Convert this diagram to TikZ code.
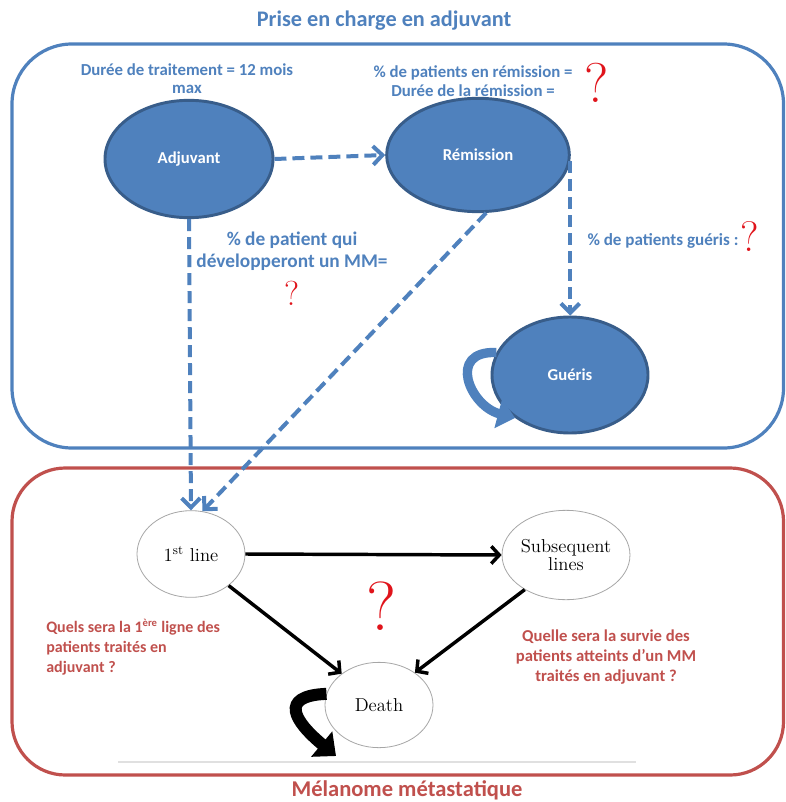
\documentclass[tikz,border=0pt]{standalone}
\usepackage{fontspec}
\newfontfamily\calfont{Carlito}
\usetikzlibrary{arrows.meta,shapes.geometric}
\definecolor{obl}{HTML}{4F81BD}
\definecolor{obld}{HTML}{385D8A}
\definecolor{ored}{HTML}{C0504D}
\definecolor{qred}{HTML}{E0141B}
\tikzset{
  bluenode/.style={ellipse, draw=obld, line width=2.2pt, fill=obl, text=white, inner sep=0pt,
    font=\calfont\bfseries\fontsize{12.5}{14}\selectfont},
  whitenode/.style={ellipse, draw=black!35, line width=0.6pt, fill=white, inner sep=0pt, align=center,
    font=\fontsize{14}{14}\selectfont},
  bluetxt/.style={text=obl, align=center, inner sep=0pt, font=\calfont\bfseries\fontsize{11}{13.5}\selectfont},
  redtxt/.style={text=ored, inner sep=0pt},
  qmark/.style={text=qred, inner sep=0pt},
  bluearrow/.style={draw=obl, line width=3pt, dash pattern=on 9pt off 4.5pt, -{Straight Barb[length=7pt,width=14pt]}},
  blackarrow/.style={draw=black, line width=2.6pt, -{Straight Barb[length=6pt,width=13pt]}},
  frame/.style={rounded corners=45pt, line width=2.4pt}
}
\begin{document}
\begin{tikzpicture}[x=0.75pt,y=-0.75pt]
\useasboundingbox (0,0) rectangle (785,802);
% frames
\draw[frame, draw=obl] (12,44) rectangle (783.5,448);
\draw[frame, draw=ored, rounded corners=40pt] (12,468) rectangle (783.5,775);
\draw[black!12, line width=0.8pt] (118,762) -- (636,762);
% titles
\node[text=obl, inner sep=0pt, font=\calfont\bfseries\fontsize{16.7}{19}\selectfont] (title) at (384,21) {Prise en charge en adjuvant};
\node[text=ored, inner sep=0pt, font=\calfont\bfseries\fontsize{16.9}{19}\selectfont] (title2) at (407,790) {Mélanome métastatique};
% blue nodes
\node[bluenode, minimum width=126pt, minimum height=88pt] (adj) at (189,159) {Adjuvant};
\node[bluenode, minimum width=137pt, minimum height=85pt] (rem) at (478,155) {Rémission};
\node[bluenode, minimum width=117pt, minimum height=87pt] (guer) at (570,375) {Guéris};
% blue texts
\node[bluetxt, font=\calfont\bfseries\fontsize{12.6}{13.5}\selectfont] (dur) at (187,79) {Durée de traitement = 12 mois\\max};
\node[bluetxt, font=\calfont\bfseries\fontsize{12.6}{14.2}\selectfont] (remt) at (473,81) {\% de patients en rémission =\\Durée de la rémission =};
\node[qmark, font=\fontsize{42}{42}\selectfont] (q1) at (597,83) {?};
\node[bluetxt, font=\calfont\bfseries\fontsize{14.5}{16.5}\selectfont] (mmt) at (292,251) {\% de patient qui\\développeront un MM=};
\node[qmark, font=\fontsize{26}{26}\selectfont] (q2) at (292,293) {?};
\node[bluetxt, font=\calfont\bfseries\fontsize{12.8}{14}\selectfont] (guet) at (663,241) {\% de patients guéris :};
\node[qmark, font=\fontsize{32}{32}\selectfont] (q3) at (750,237) {?};
% white nodes
\node[whitenode, minimum width=81pt, minimum height=65pt] (first) at (191,554) {1\textsuperscript{st}\ line};
\node[whitenode, minimum width=84pt, minimum height=67pt] (sub) at (566,555) {Subsequent\\lines};
\node[whitenode, minimum width=81pt, minimum height=64pt] (death) at (379,705) {Death};
\node[qmark, font=\fontsize{52}{52}\selectfont] (q4) at (382,606) {?};
% red texts
\node[redtxt, align=left, anchor=west, font=\calfont\bfseries\fontsize{12}{15}\selectfont] (qleft) at (46,647) {Quels sera la 1\textsuperscript{ère} ligne des\\patients traités en\\adjuvant ?};
\node[redtxt, align=center, font=\calfont\bfseries\fontsize{12.5}{15}\selectfont] (qright) at (606,657) {Quelle sera la survie des\\patients atteints d’un MM\\traités en adjuvant ?};
% blue arrows
\draw[bluearrow] (adj.east) -- (rem.west);
\draw[bluearrow] (adj.south) -- (first.north);
\draw[bluearrow] (rem.-82) -- (first.75);
\draw[bluearrow] (rem.-4) -- (rem.-4 |- guer.north);
% Gueris loop
\draw[obl, line width=7pt, -{Triangle[length=13pt,width=22pt]}] (guer.163) .. controls +(-50,-2) and +(-45,-12) .. (guer.218);
% black arrows
\draw[blackarrow] (first.east) -- (sub.west);
\draw[blackarrow] (first.-40) -- (death.140);
\draw[blackarrow] (sub.220) -- (death.42);
% Death loop
\coordinate (dl) at (336,756);
\draw[black, line width=9pt, -{Triangle[length=14pt,width=24pt]}] (death.168) .. controls +(-48,2) and +(-42,-35) .. (dl);
\end{tikzpicture}
\end{document}
